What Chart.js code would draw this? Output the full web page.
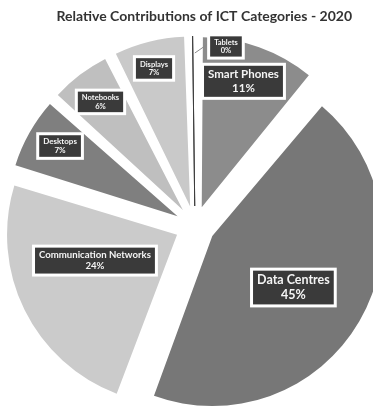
<!DOCTYPE html>
<html>
<head>
<meta charset="utf-8">
<script src="https://cdn.jsdelivr.net/npm/chart.js@4.4.1/dist/chart.umd.min.js"></script>
<style>
  html, body { margin: 0; padding: 0; background: #fff; }
</style>
</head>
<body>
<canvas id="myChart" width="373" height="407"></canvas>
<script>
// ICT categories, clockwise from 12 o'clock
const categories = ['Smart Phones', 'Data Centres', 'Communication Networks', 'Desktops', 'Notebooks', 'Displays', 'Tablets'];
const shares = [11, 45, 24, 7, 6, 7, 0.4]; // % of total footprint
const chartTitle = 'Relative Contributions of ICT Categories - 2020';

// styling
const sliceColors = ['#8c8c8c', '#777777', '#cbcbcb', '#7f7f7f', '#bfbfbf', '#c9c9c9', '#3c3c3c'];
const labelFont = [11.5, 12.5, 9.6, 8, 7.6, 7.6, 7.5];
// r = fraction of radius along the slice middle, turn = degrees off the middle
const labelPlace = [
  {r: 0.78, turn: -1.2},
  {r: 0.565, turn: 1.9},
  {r: 0.505, turn: 7.1},
  {r: 0.805, turn: 1.25},
  {r: 0.80, turn: 0},
  {r: 0.84, turn: -0.6},
  {r: 0.954, turn: 10.5}
];
const explode = 20; // px each slice is pulled out

// chart.js moves an arc by offset/4 but also grows its radius,
// take the growth back so all slices keep the same radius
const evenExplode = {
  id: 'evenExplode',
  afterDatasetsUpdate(chart) {
    chart.getDatasetMeta(0).data.forEach(arc => {
      const circ = arc.endAngle - arc.startAngle;
      const fix = 1 - Math.sin(Math.min(Math.PI, circ));
      arc.outerRadius -= (arc.options.offset / 4) * fix;
    });
  }
};

const labelBoxes = {
  id: 'labelBoxes',
  afterDatasetsDraw(chart) {
    const ctx = chart.ctx;
    const meta = chart.getDatasetMeta(0);
    const R = meta.controller.outerRadius;
    meta.data.forEach((arc, i) => {
      const p = labelPlace[i];
      const mid = (arc.startAngle + arc.endAngle) / 2 + p.turn * Math.PI / 180;
      const dist = arc.options.offset / 4 + p.r * R;
      const cx = arc.x + Math.cos(mid) * dist;
      const cy = arc.y + Math.sin(mid) * dist;
      const size = labelFont[i];
      const lines = [categories[i], Math.round(shares[i]) + '%'];
      ctx.save();
      ctx.font = 'bold ' + size + 'px Lato';
      const tw = Math.max(...lines.map(t => ctx.measureText(t).width));
      const lh = size * 1.15;
      const w = tw + 8;
      const h = lines.length * lh + size * 0.4;
      const x0 = cx - w / 2, y0 = cy - h / 2;

      if (categories[i] === 'Tablets') {
        // leader line from the thin slice to its box
        const ld = arc.options.offset / 4 + 0.9 * R;
        const mid0 = (arc.startAngle + arc.endAngle) / 2;
        ctx.strokeStyle = '#8a8a8a';
        ctx.lineWidth = 1;
        ctx.beginPath();
        ctx.moveTo(arc.x + Math.cos(mid0) * ld + 2, arc.y + Math.sin(mid0) * ld);
        ctx.lineTo(x0 - 3, cy - 2);
        ctx.stroke();
      }

      ctx.fillStyle = '#ffffff';
      ctx.fillRect(x0 - 3, y0 - 3, w + 6, h + 6);
      ctx.fillStyle = '#3a3a3a';
      ctx.fillRect(x0, y0, w, h);
      ctx.fillStyle = '#f4f4f4';
      ctx.textAlign = 'center';
      ctx.textBaseline = 'middle';
      lines.forEach((t, k) => {
        ctx.fillText(t, cx, cy + (k - (lines.length - 1) / 2) * lh);
      });
      ctx.restore();
    });
  }
};

const ctx = document.getElementById('myChart').getContext('2d');
window.myChart = new Chart(ctx, {
  type: 'pie',
  data: {
    labels: categories,
    datasets: [{
      data: shares,
      backgroundColor: sliceColors,
      borderWidth: [0, 0, 0, 0, 0, 0, 1],
      borderColor: '#3c3c3c',
      offset: explode * 4,
      radius: 170
    }]
  },
  options: {
    responsive: false,
    animation: false,
    events: [],
    layout: { padding: { left: 38, right: 21, top: 0, bottom: 0 } },
    plugins: {
      legend: { display: false },
      tooltip: { enabled: false },
      title: {
        display: true,
        text: chartTitle,
        align: 'end',
        color: '#333333',
        font: { family: 'Lato', size: 14, weight: 'bold' },
        padding: { top: 8, bottom: 20.2 }
      }
    }
  },
  plugins: [evenExplode, labelBoxes]
});
</script>
</body>
</html>
